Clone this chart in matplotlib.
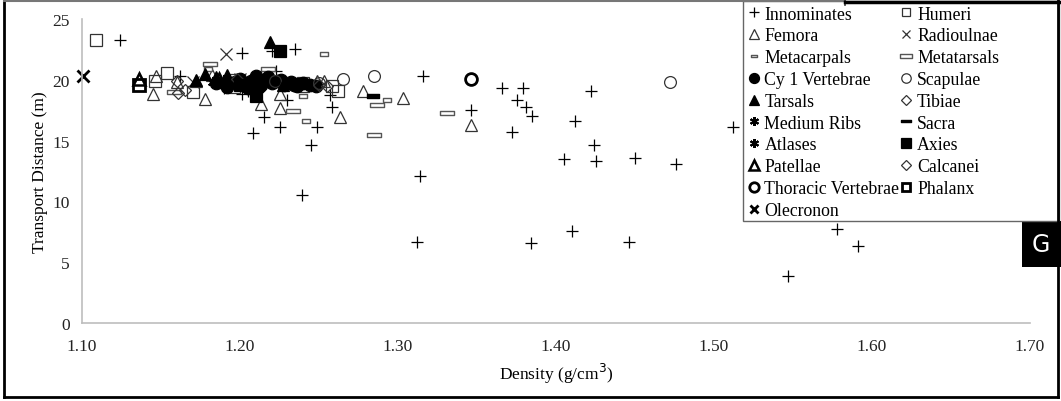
import matplotlib
matplotlib.use("Agg")
import matplotlib.pyplot as plt
from matplotlib.path import Path
from matplotlib.lines import Line2D
from matplotlib.patches import Rectangle

plt.rcParams['font.family'] = ['Liberation Serif', 'DejaVu Serif']

# ---------------- data (density g/cm3, transport distance m) ----------------
innom_x = [1.124, 1.201, 1.220, 1.235, 1.316, 1.366, 1.379, 1.422, 1.375, 1.381,
           1.385, 1.346, 1.412, 1.372, 1.424, 1.405, 1.425, 1.450, 1.476, 1.314,
           1.239, 1.312, 1.384, 1.410, 1.446, 1.512, 1.578, 1.591, 1.547,
           1.215, 1.225, 1.208, 1.249, 1.245, 1.258, 1.257, 1.230, 1.201, 1.223,
           1.162, 1.205, 1.232, 1.190]
innom_y = [23.3, 22.2, 22.4, 22.5, 20.3, 19.3, 19.3, 19.1, 18.3, 17.8,
           17.0, 17.5, 16.6, 15.7, 14.6, 13.5, 13.3, 13.6, 13.1, 12.1,
           10.5, 6.7, 6.6, 7.6, 6.7, 16.1, 7.7, 6.3, 3.9,
           16.9, 16.1, 15.6, 16.1, 14.6, 17.8, 18.75, 18.3, 18.8, 20.7,
           20.3, 19.1, 19.8, 19.3]
fem_x = [1.145, 1.147, 1.160, 1.172, 1.178, 1.213, 1.225, 1.225, 1.249, 1.253,
         1.263, 1.278, 1.303, 1.346, 1.240, 1.182]
fem_y = [18.8, 20.3, 19.8, 19.9, 18.4, 18.0, 18.8, 17.7, 19.9, 19.9,
         16.9, 19.1, 18.5, 16.3, 19.5, 20.4]
hum_x = [1.109, 1.146, 1.154, 1.170, 1.196, 1.240, 1.262, 1.195, 1.258]
hum_y = [23.3, 19.9, 20.6, 19.0, 19.4, 19.7, 19.1, 20.0, 19.5]
rad_x = [1.191, 1.200, 1.170]
rad_y = [22.1, 20.1, 19.8]
mc_x = [1.253, 1.242, 1.240, 1.293, 1.180]
mc_y = [22.1, 16.6, 18.7, 18.3, 20.9]
mt_x = [1.181, 1.158, 1.2335, 1.287, 1.285, 1.331, 1.233, 1.218]
mt_y = [21.3, 19.0, 17.4, 17.9, 15.5, 17.3, 19.7, 20.9]
cy_x = [1.185, 1.192, 1.197, 1.200, 1.203, 1.207, 1.210, 1.213, 1.216, 1.220,
        1.224, 1.228, 1.232, 1.236, 1.240, 1.244, 1.248, 1.205, 1.212, 1.218,
        1.226, 1.234]
cy_y = [19.7, 19.4, 19.8, 20.1, 19.5, 19.9, 20.3, 19.6, 20.0, 19.7,
        19.9, 19.6, 19.8, 19.5, 19.7, 19.6, 19.5, 19.3, 19.4, 20.2,
        20.0, 19.6]
scap_x = [1.265, 1.285, 1.472, 1.222, 1.250]
scap_y = [20.1, 20.3, 19.8, 19.9, 19.7]
tars_x = [1.219, 1.178, 1.185, 1.200, 1.227, 1.172, 1.192]
tars_y = [23.1, 20.5, 20.2, 20.0, 19.6, 20.0, 20.4]
tib_x = [1.160, 1.161, 1.198, 1.250]
tib_y = [19.9, 18.9, 20.1, 19.6]
rib_x = [1.183, 1.205]
rib_y = [19.8, 19.7]
sac_x = [1.284, 1.240, 1.235]
sac_y = [18.7, 19.9, 20.0]
atl_x = [1.190, 1.212]
atl_y = [20.0, 19.6]
axi_x = [1.225, 1.210, 1.200]
axi_y = [22.4, 18.7, 19.6]
pat_x = [1.136, 1.187]
pat_y = [20.1, 20.1]
calc_x = [1.165, 1.255]
calc_y = [19.2, 19.5]
thor_x = [1.346]
thor_y = [20.1]
phal_x = [1.136]
phal_y = [19.6]
ole_x = [1.1006]
ole_y = [20.3]

x_ticks = [1.10, 1.20, 1.30, 1.40, 1.50, 1.60, 1.70]
y_ticks = [0, 5, 10, 15, 20, 25]

# ---------------- markers ----------------
wide_bar = Path([(-1, -0.28), (1, -0.28), (1, 0.28), (-1, 0.28), (-1, -0.28)],
                [Path.MOVETO, Path.LINETO, Path.LINETO, Path.LINETO, Path.CLOSEPOLY])
small_bar = Path([(-1, -0.4), (1, -0.4), (1, 0.4), (-1, 0.4), (-1, -0.4)],
                 [Path.MOVETO, Path.LINETO, Path.LINETO, Path.LINETO, Path.CLOSEPOLY])
star = (6, 2, 0)

fig = plt.figure(figsize=(10.61, 4.02), dpi=100)
ax = fig.add_axes([82/1061, 78/402, (1030-82)/1061, (324-20)/402])

K = '#000000'
G = '#555555'
series = [
    # label, x, y, marker, size, face, edge, lw
    ('Innominates', innom_x, innom_y, '+', 9, 'none', K, 0.9),
    ('Humeri', hum_x, hum_y, 's', 8, 'none', '#333333', 0.9),
    ('Femora', fem_x, fem_y, '^', 9, 'none', '#333333', 0.9),
    ('Radioulnae', rad_x, rad_y, 'x', 8, 'none', '#333333', 0.9),
    ('Metacarpals', mc_x, mc_y, small_bar, 6, 'white', G, 1.0),
    ('Metatarsals', mt_x, mt_y, wide_bar, 10, 'white', G, 1.0),
    ('Cy 1 Vertebrae', cy_x, cy_y, 'o', 9, K, K, 0.9),
    ('Scapulae', scap_x, scap_y, 'o', 8.5, 'none', '#333333', 0.9),
    ('Tarsals', tars_x, tars_y, '^', 9, K, K, 0.9),
    ('Tibiae', tib_x, tib_y, 'D', 6.5, 'none', '#333333', 0.9),
    ('Medium Ribs', rib_x, rib_y, star, 8, 'none', K, 1.5),
    ('Sacra', sac_x, sac_y, wide_bar, 9, K, K, 1.0),
    ('Atlases', atl_x, atl_y, star, 8, 'none', K, 1.5),
    ('Axies', axi_x, axi_y, 's', 8.5, K, K, 0.9),
    ('Patellae', pat_x, pat_y, '^', 9, 'none', K, 1.8),
    ('Calcanei', calc_x, calc_y, 'D', 6.5, 'none', '#333333', 0.9),
    ('Thoracic Vertebrae', thor_x, thor_y, 'o', 8.5, 'none', K, 2.0),
    ('Phalanx', phal_x, phal_y, 's', 8, 'none', K, 2.0),
    ('Olecronon', ole_x, ole_y, 'x', 8, 'none', K, 2.0),
]

handles = {}
for lab, xs, ys, m, s, fc, ec, lw in series:
    h, = ax.plot(xs, ys, linestyle='none', marker=m, markersize=s,
                 markerfacecolor=fc, markeredgecolor=ec, markeredgewidth=lw,
                 color=ec, label=lab, clip_on=False)
    handles[lab] = h

ax.set_xlim(1.10, 1.70)
ax.set_ylim(0, 25)
ax.set_xticks(x_ticks)
ax.set_xticklabels([f'{v:.2f}' for v in x_ticks])
ax.set_yticks(y_ticks)
ax.tick_params(axis='both', length=0, labelsize=12.5, colors='#222222')
ax.tick_params(axis='x', pad=11)
ax.tick_params(axis='y', pad=9)
for s in ['top', 'right']:
    ax.spines[s].set_visible(False)
for s in ['left', 'bottom']:
    ax.spines[s].set_color('#bdbdbd')
    ax.spines[s].set_linewidth(1.2)
ax.set_xlabel('Density (g/cm$^3$)', fontsize=12.5, labelpad=5)
ax.set_ylabel('Transport Distance (m)', fontsize=12.5, labelpad=3)

col1 = ['Innominates', 'Femora', 'Metacarpals', 'Cy 1 Vertebrae', 'Tarsals',
        'Medium Ribs', 'Atlases', 'Patellae', 'Thoracic Vertebrae', 'Olecronon']
col2 = ['Humeri', 'Radioulnae', 'Metatarsals', 'Scapulae', 'Tibiae', 'Sacra',
        'Axies', 'Calcanei', 'Phalanx']
order = col1 + col2

# legend box frame
fig.add_artist(Rectangle((743/1061, (402-222)/402), (1059-743)/1061, 220/402,
                         transform=fig.transFigure, facecolor='white',
                         edgecolor='#666666', linewidth=1.0, zorder=4))
leg = fig.legend([handles[k] for k in order], order, loc='upper left',
                 bbox_to_anchor=(743/1061, 399/402), ncol=2, fontsize=12.8,
                 frameon=False, borderpad=0.2, labelspacing=0.27,
                 handlelength=0.8, handletextpad=0.2, columnspacing=0.0,
                 borderaxespad=0, markerscale=0.8)
leg.set_zorder(5)

# "G" panel tag
fig.add_artist(Rectangle((1022/1061, (402-268)/402), 39/1061, 46/402,
                         transform=fig.transFigure, facecolor='black',
                         edgecolor='none'))
fig.text(1041/1061, (402-245)/402, 'G', color='white', fontsize=17,
         family='DejaVu Sans', ha='center', va='center')

# outer frame
def fline(xs, ys, c='black', lw=2):
    fig.add_artist(Line2D([x/1061 for x in xs], [(402-y)/402 for y in ys],
                          transform=fig.transFigure, color=c, linewidth=lw,
                          zorder=6))
fline([4, 4], [1, 398])
fline([4, 1058], [398, 398])
fline([1058, 1058], [1, 398])
fline([4, 845], [1.5, 1.5], c='#777777', lw=1.5)
fline([845, 845], [0, 6], c='#333333', lw=1.2)
fline([845, 1061], [3, 3], lw=2.5)

fig.savefig('out.png', dpi=100)
